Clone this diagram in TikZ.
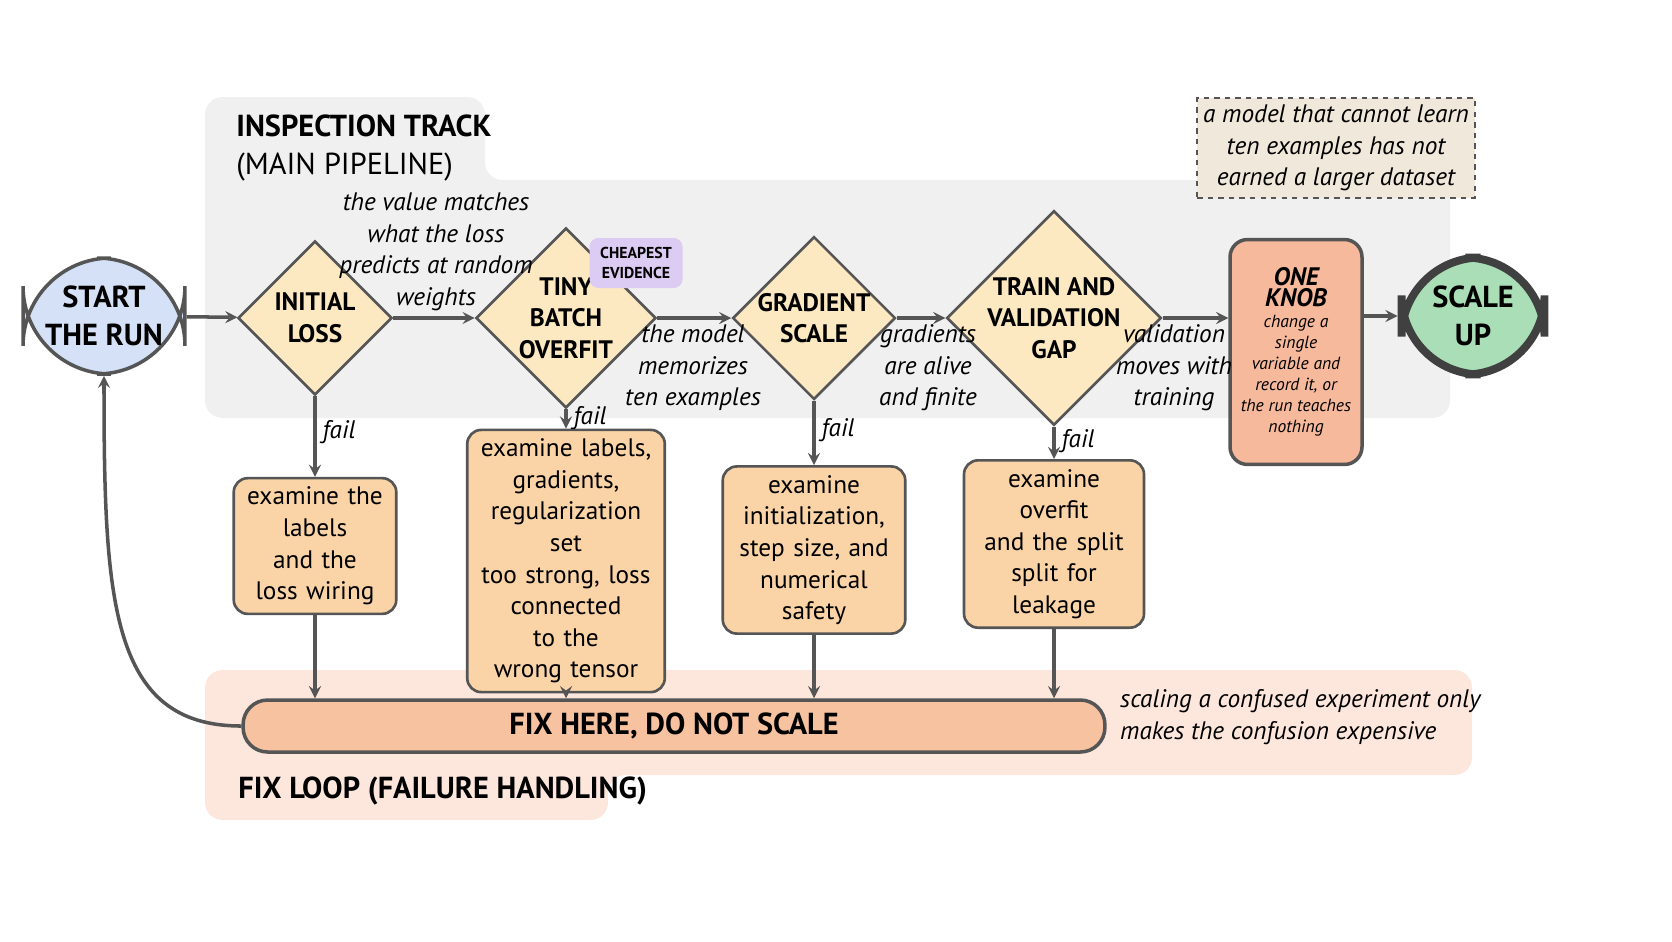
\documentclass[tikz,border=0pt]{standalone}
\usepackage{fontspec}
\setmainfont{PT Sans}
\usetikzlibrary{shapes.geometric}
\usetikzlibrary{positioning}
\definecolor{trackgrey}{HTML}{F0F0F0}
\definecolor{looppeach}{HTML}{FDE7DD}
\definecolor{gatefill}{HTML}{FCE9C2}
\definecolor{boxfill}{HTML}{FAD4A6}
\definecolor{fixfill}{HTML}{F7C2A0}
\definecolor{knobfill}{HTML}{F6B99B}
\definecolor{startfill}{HTML}{D5E1F6}
\definecolor{upfill}{HTML}{A9DEB7}
\definecolor{tagfill}{HTML}{DCCBF2}
\definecolor{notefill}{HTML}{F0E8DB}
\definecolor{edge}{HTML}{555555}
\newcommand{\knobhead}[1]{\textbf{\Large #1}}
\tikzset{
  gate/.style={diamond, draw=edge, line width=1.5pt, fill=gatefill, inner sep=0pt,
    minimum size=#1, align=center, font=\bfseries\Large},
  checkbox/.style={rectangle, rounded corners=8pt, draw=edge, line width=1.5pt,
    fill=boxfill, align=center, font=\Large, inner sep=5pt},
  note/.style={align=center, font=\itshape\Large},
  flow/.style={-stealth, draw=edge, line width=2pt},
}
\begin{document}
\begin{tikzpicture}[x=0.02cm, y=0.02cm]
  \useasboundingbox (0,0) rectangle (1672,-941);
  % regions
  \fill[trackgrey, rounded corners=10pt] (205,-97) -- (485,-97) -- (485,-180) -- (1450,-180)
    -- (1450,-418) -- (205,-418) -- cycle;
  \fill[looppeach, rounded corners=10pt] (205,-670) -- (1472,-670) -- (1472,-775) -- (608,-775)
    -- (608,-820) -- (205,-820) -- cycle;
  \node[anchor=north west, align=left, font=\LARGE, inner sep=0pt] (track) at (236,-114)
    {\textbf{INSPECTION TRACK}\\(MAIN PIPELINE)};
  \node[anchor=west, font=\LARGE\bfseries, inner sep=0pt] (looptitle) at (238,-791) {FIX LOOP (FAILURE HANDLING)};

  % main pipeline
  \node[rectangle, rounded corners=50pt, draw=edge, line width=2pt, fill=startfill,
    minimum width=3.24cm, minimum height=2.32cm, align=center, font=\bfseries\LARGE]
    (start) at (104,-316) {START\\THE RUN};
  \node[gate=3.08cm] (loss) at (315,-318) {INITIAL\\LOSS};
  \node[gate=3.6cm] (tiny) at (566,-318) {TINY\\BATCH\\OVERFIT};
  \node[gate=3.08cm] (grad) at (814,-318) {GRADIENT\\SCALE};
  \node[gate=3.48cm] (gap) at (1054,-318) {TRAIN AND\\VALIDATION\\GAP};
  \node[rectangle, rounded corners=10pt, draw=edge, line width=2pt, fill=knobfill,
    minimum width=2.64cm, minimum height=4.5cm, align=center, inner sep=2pt,
    font=\itshape\normalsize] (knob) at (1296,-352)
    {\knobhead{ONE}\\\knobhead{KNOB}\\change a\\single\\variable and\\record it, or\\the run teaches\\nothing};
  \node[rectangle, rounded corners=45pt, draw=black!75, line width=4.5pt, fill=upfill,
    minimum width=2.86cm, minimum height=2.34cm, align=center, font=\bfseries\LARGE]
    (up) at (1473,-316) {SCALE\\UP};
  \node[rectangle, rounded corners=5pt, fill=tagfill, align=center,
    font=\bfseries\small, minimum width=1.86cm, minimum height=1cm, inner sep=2pt]
    (tag) at (636,-263) {CHEAPEST\\EVIDENCE};
  \node[rectangle, draw=edge, dashed, line width=1.2pt, fill=notefill,
    minimum width=5.36cm, minimum height=2cm, note]
    (lesson) at (1336,-148) {a model that cannot learn\\ten examples has not\\earned a larger dataset};

  \draw[flow] (start) -- (loss);
  \draw[flow] (loss) -- (tiny);
  \draw[flow] (tiny) -- (grad);
  \draw[flow] (grad) -- (gap);
  \draw[flow] (gap.east) -- (knob.west |- gap.east);
  \draw[flow] (knob.east |- up.west) -- (up);
  \node[note] (l1) at (436,-252) {the value matches\\what the loss\\predicts at random\\weights};
  \node[note] (l2) at (693,-368) {the model\\memorizes\\ten examples};
  \node[note] (l3) at (928,-368) {gradients\\are alive\\and finite};
  \node[note] (l4) at (1174,-368) {validation\\moves with\\training};

  % failure boxes
  \node[checkbox, text width=2.9cm] (fix1) at (315,-546) {examine the\\labels and the\\loss wiring};
  \node[checkbox, text width=3.6cm] (fix2) at (566,-561) {examine labels,\\gradients,\\regularization set\\too strong, loss\\connected to the\\wrong tensor};
  \node[checkbox, text width=3.3cm] (fix3) at (814,-550) {examine\\initialization,\\step size, and\\numerical safety};
  \node[checkbox, text width=3.25cm] (fix4) at (1054,-544) {examine overfit\\and the split\\split for leakage};
  \node[rectangle, rounded corners=14pt, draw=edge, line width=2pt, fill=fixfill,
    minimum width=17.24cm, minimum height=1.04cm, font=\bfseries\LARGE]
    (fixhere) at (674,-726) {FIX HERE, DO NOT SCALE};
  \node[anchor=west, align=left, font=\itshape\Large] (warn) at (1114,-717)
    {scaling a confused experiment only\\makes the confusion expensive};

  \foreach \g/\f in {loss/fix1, tiny/fix2, grad/fix3, gap/fix4} {
    \draw[flow] (\g) -- node[right, pos=0.45, font=\itshape\Large] {fail} (\f);
    \draw[flow] (\f.south) -- (\f.south |- fixhere.north);
  }
  \draw[flow] (fixhere.west) .. controls (110,-726) and (104,-600) .. (start.south);
\end{tikzpicture}
\end{document}
